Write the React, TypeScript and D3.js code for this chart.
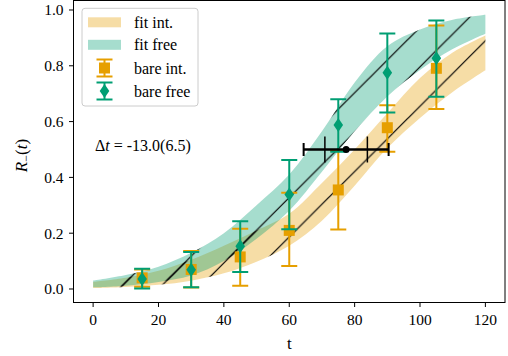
import React from "react";
import * as d3 from "d3";

// fit bands, t grid
const tBand = [0, 10, 20, 30, 40, 50, 60, 70, 80, 90, 100, 110, 120];
const fitIntLo = [0.003, 0.007, 0.015, 0.03, 0.056, 0.098, 0.155, 0.245, 0.37, 0.505, 0.613, 0.706, 0.784];
const fitIntHi = [0.025, 0.04, 0.065, 0.105, 0.155, 0.21, 0.27, 0.38, 0.5, 0.63, 0.756, 0.848, 0.909];
const fitFreeLo = [0.006, 0.012, 0.025, 0.048, 0.1, 0.18, 0.28, 0.42, 0.565, 0.69, 0.785, 0.86, 0.915];
const fitFreeHi = [0.03, 0.05, 0.08, 0.13, 0.2, 0.3, 0.41, 0.565, 0.74, 0.87, 0.93, 0.965, 0.983];

// bare points
const tBare = [15, 30, 45, 60, 75, 90, 105];
const bareInt = [0.04, 0.07, 0.115, 0.21, 0.355, 0.578, 0.791];
const bareIntLo = [0.008, 0.005, 0.012, 0.082, 0.213, 0.492, 0.645];
const bareIntHi = [0.07, 0.136, 0.216, 0.345, 0.495, 0.659, 0.944];
const bareFree = [0.036, 0.069, 0.153, 0.339, 0.588, 0.775, 0.827];
const bareFreeLo = [0.002, 0.006, 0.061, 0.214, 0.492, 0.633, 0.689];
const bareFreeHi = [0.073, 0.133, 0.243, 0.462, 0.68, 0.916, 0.962];

// time shift marker
const shiftT = 77.4;
const shiftR = 0.5;
const shiftErr = 13.0;
const shiftErrStat = 6.5;

const xTicks = [0, 20, 40, 60, 80, 100, 120];
const yTicks = [0.0, 0.2, 0.4, 0.6, 0.8, 1.0];

const ORANGE = "#E69F00";
const TEAL = "#009E73";
const FONT = "'Liberation Serif', 'Times New Roman', 'DejaVu Serif', serif";

const width = 508;
const height = 356;
const plot = { left: 73.5, right: 505, top: 0.5, bottom: 302.5 };

const App = () => {
  const x = d3.scaleLinear().domain([-6, 126]).range([plot.left, plot.right]);
  const y = d3.scaleLinear().domain([-0.0484, 1.034]).range([plot.bottom, plot.top]);

  const band = (lo: number[], hi: number[]) =>
    d3
      .area<number>()
      .x((_, i) => x(tBand[i]))
      .y0((_, i) => y(lo[i]))
      .y1((d) => y(d))
      .curve(d3.curveCatmullRom)(hi) || "";

  const intPath = band(fitIntLo, fitIntHi);
  const freePath = band(fitFreeLo, fitFreeHi);

  const squareMarker = (cx: number, cy: number, key?: string) => (
    <rect key={key} x={cx - 5.5} y={cy - 5.5} width={11} height={11} fill={ORANGE} />
  );
  const diamondMarker = (cx: number, cy: number, key?: string) => (
    <path key={key} d={`M${cx},${cy - 7} L${cx + 4.8},${cy} L${cx},${cy + 7} L${cx - 4.8},${cy} Z`} fill={TEAL} />
  );

  const errorBars = (vals: number[], lo: number[], hi: number[], color: string, marker: typeof squareMarker, tag: string) =>
    tBare.map((t, i) => {
      const cx = x(t);
      return (
        <g key={tag + i}>
          <line x1={cx} x2={cx} y1={y(lo[i])} y2={y(hi[i])} stroke={color} strokeWidth={2} />
          <line x1={cx - 8} x2={cx + 8} y1={y(lo[i])} y2={y(lo[i])} stroke={color} strokeWidth={2} />
          <line x1={cx - 8} x2={cx + 8} y1={y(hi[i])} y2={y(hi[i])} stroke={color} strokeWidth={2} />
          {marker(cx, y(vals[i]))}
        </g>
      );
    });

  const sy = y(shiftR);

  // legend handles
  const lgX = 104.5;
  const legendRows = [22.3, 44.8, 68, 91];
  const legendLabels = ["fit int.", "fit free", "bare int.", "bare free"];

  return (
    <svg width={width} height={height} style={{ position: "absolute", left: 0, top: 0, fontFamily: FONT }}>
      <defs>
        <pattern id="hatch" patternUnits="userSpaceOnUse" x={14} y={0} width={39.4} height={39.4}>
          <path d="M-2,41.4 L41.4,-2 M-2,2 L2,-2 M37.4,41.4 L41.4,37.4" stroke="black" strokeWidth={1.2} />
        </pattern>
        <clipPath id="plotClip">
          <rect x={plot.left} y={plot.top} width={plot.right - plot.left} height={plot.bottom - plot.top} />
        </clipPath>
      </defs>
      <rect x={0} y={0} width={width} height={height} fill="white" />

      <g clipPath="url(#plotClip)">
        {/* bands */}
        <path d={intPath} fill={ORANGE} fillOpacity={0.35} />
        <path d={freePath} fill={TEAL} fillOpacity={0.35} />
        <path d={intPath} fill="url(#hatch)" />
        <path d={freePath} fill="url(#hatch)" />

        {/* bare data */}
        {errorBars(bareInt, bareIntLo, bareIntHi, ORANGE, squareMarker, "i")}
        {errorBars(bareFree, bareFreeLo, bareFreeHi, TEAL, diamondMarker, "f")}

        {/* time shift */}
        <line x1={x(shiftT - shiftErr)} x2={x(shiftT + shiftErr)} y1={sy} y2={sy} stroke="black" strokeWidth={2.5} />
        {[-1, 1].map((s) => (
          <line key={"c" + s} x1={x(shiftT + s * shiftErr)} x2={x(shiftT + s * shiftErr)} y1={sy - 6.5} y2={sy + 6.5} stroke="black" strokeWidth={2} />
        ))}
        {[-1, 1].map((s) => (
          <line key={"s" + s} x1={x(shiftT + s * shiftErrStat)} x2={x(shiftT + s * shiftErrStat)} y1={sy - 13} y2={sy + 13} stroke="black" strokeWidth={1.5} />
        ))}
        <circle cx={x(shiftT)} cy={sy} r={3.5} fill="black" />
      </g>

      {/* frame */}
      <rect x={plot.left} y={plot.top} width={plot.right - plot.left} height={plot.bottom - plot.top} fill="none" stroke="black" strokeWidth={1} />

      {/* x axis */}
      {xTicks.map((t) => (
        <g key={"xt" + t}>
          <line x1={x(t)} x2={x(t)} y1={plot.bottom} y2={plot.bottom + 4.5} stroke="black" strokeWidth={1} />
          <text x={x(t)} y={325} textAnchor="middle" fontSize={15.5}>
            {t}
          </text>
        </g>
      ))}
      <text x={x(60)} y={349} textAnchor="middle" fontSize={17}>
        t
      </text>

      {/* y axis */}
      {yTicks.map((v) => (
        <g key={"yt" + v}>
          <line x1={plot.left - 4.5} x2={plot.left} y1={y(v)} y2={y(v)} stroke="black" strokeWidth={1} />
          <text x={63.5} y={y(v)} dy="0.35em" textAnchor="end" fontSize={15.5}>
            {v.toFixed(1)}
          </text>
        </g>
      ))}
      <text transform={`translate(27, ${(plot.top + plot.bottom) / 2 + 4}) rotate(-90)`} textAnchor="middle" fontSize={17}>
        <tspan fontStyle="italic">R</tspan>
        <tspan fontSize={12} dy={3}>−</tspan>
        <tspan dy={-3}>(</tspan>
        <tspan fontStyle="italic">t</tspan>
        <tspan>)</tspan>
      </text>

      {/* annotation */}
      <text x={95} y={151} fontSize={16}>
        <tspan>Δ</tspan>
        <tspan fontStyle="italic">t</tspan>
        <tspan> = -13.0(6.5)</tspan>
      </text>

      {/* legend */}
      <rect x={82} y={8.3} width={116} height={97.7} rx={3} fill="white" fillOpacity={0.8} stroke="#cccccc" strokeWidth={1} />
      <rect x={88} y={legendRows[0] - 5} width={33} height={10} fill={ORANGE} fillOpacity={0.35} />
      <rect x={88} y={legendRows[1] - 5} width={33} height={10} fill={TEAL} fillOpacity={0.35} />
      {[
        { row: legendRows[2], color: ORANGE, marker: squareMarker },
        { row: legendRows[3], color: TEAL, marker: diamondMarker },
      ].map(({ row, color, marker }, i) => (
        <g key={"lg" + i}>
          <line x1={lgX} x2={lgX} y1={row - 8.5} y2={row + 8.5} stroke={color} strokeWidth={2} />
          <line x1={lgX - 8} x2={lgX + 8} y1={row - 8.5} y2={row - 8.5} stroke={color} strokeWidth={2} />
          <line x1={lgX - 8} x2={lgX + 8} y1={row + 8.5} y2={row + 8.5} stroke={color} strokeWidth={2} />
          {marker(lgX, row)}
        </g>
      ))}
      {legendLabels.map((l, i) => (
        <text key={l} x={134} y={legendRows[i]} dy="0.35em" fontSize={16}>
          {l}
        </text>
      ))}
    </svg>
  );
};

export default App;
